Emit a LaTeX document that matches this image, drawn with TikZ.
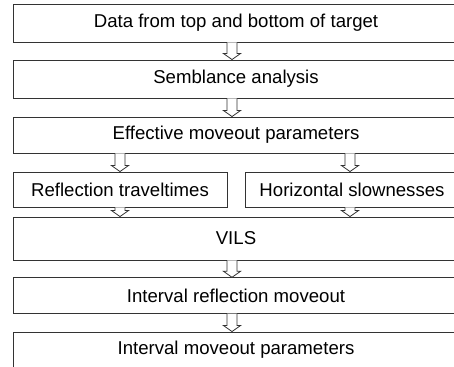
\documentclass[tikz,border=0pt]{standalone}
\usepackage{fontspec}
\setmainfont{Liberation Sans}
\usepackage{tikz}
\usetikzlibrary{positioning,calc}

\newcommand{\hollowarrow}[2]{%
  \draw[arrowline] ($(#1)+(-5,0)$) -- ($(#2)+(-5,-6)$) -- ($(#2)+(-8.5,-6)$) -- (#2)
    -- ($(#2)+(8.5,-6)$) -- ($(#2)+(5,-6)$) -- ($(#1)+(5,0)$);}

\begin{document}
\begin{tikzpicture}[x=1pt,y=-1pt]
  \tikzset{box/.style={draw=black!80, line width=0.9pt, fill=white, inner sep=0pt,
      font=\fontsize{18.6}{22}\selectfont},
    arrowline/.style={draw=black!80, line width=0.8pt, fill=white, line join=miter}}
    \useasboundingbox (0,0) rectangle (454,366);
    \clip (0,0) rectangle (454,366);

    \coordinate (mid) at (232,0);
    \coordinate (lft) at (120,0);
    \coordinate (rgt) at (350,0);

    \node[box, minimum width=446pt, minimum height=38pt] (data) at (236,23) {Data from top and bottom of target};
    \node[box, minimum width=446pt, minimum height=38pt] (semb) at (236,79) {Semblance analysis};
    \node[box, minimum width=446pt, minimum height=36pt] (eff) at (236,135) {Effective moveout parameters};

    \node[box, minimum width=214pt, minimum height=35pt] (refl) at (120,189.5) {Reflection traveltimes};
    \node[box, minimum width=214pt, minimum height=35pt] (horiz) at (352,189.5) {Horizontal slownesses};

    \node[box, minimum width=446pt, minimum height=43pt] (vils) at (236,238.5) {VILS};
    \node[box, minimum width=446pt, minimum height=35.5pt] (intrefl) at (236,295.5) {Interval reflection moveout};
    \node[box, minimum width=446pt, minimum height=36pt] (intmo) at (236,350) {Interval moveout parameters};

    \hollowarrow{data.south -| mid}{semb.north -| mid}
    \hollowarrow{semb.south -| mid}{eff.north -| mid}
    \hollowarrow{eff.south -| lft}{refl.north -| lft}
    \hollowarrow{eff.south -| rgt}{horiz.north -| rgt}
    \hollowarrow{refl.south -| lft}{vils.north -| lft}
    \hollowarrow{horiz.south -| rgt}{vils.north -| rgt}
    \hollowarrow{vils.south -| mid}{intrefl.north -| mid}
    \hollowarrow{intrefl.south -| mid}{intmo.north -| mid}
\end{tikzpicture}
\end{document}
